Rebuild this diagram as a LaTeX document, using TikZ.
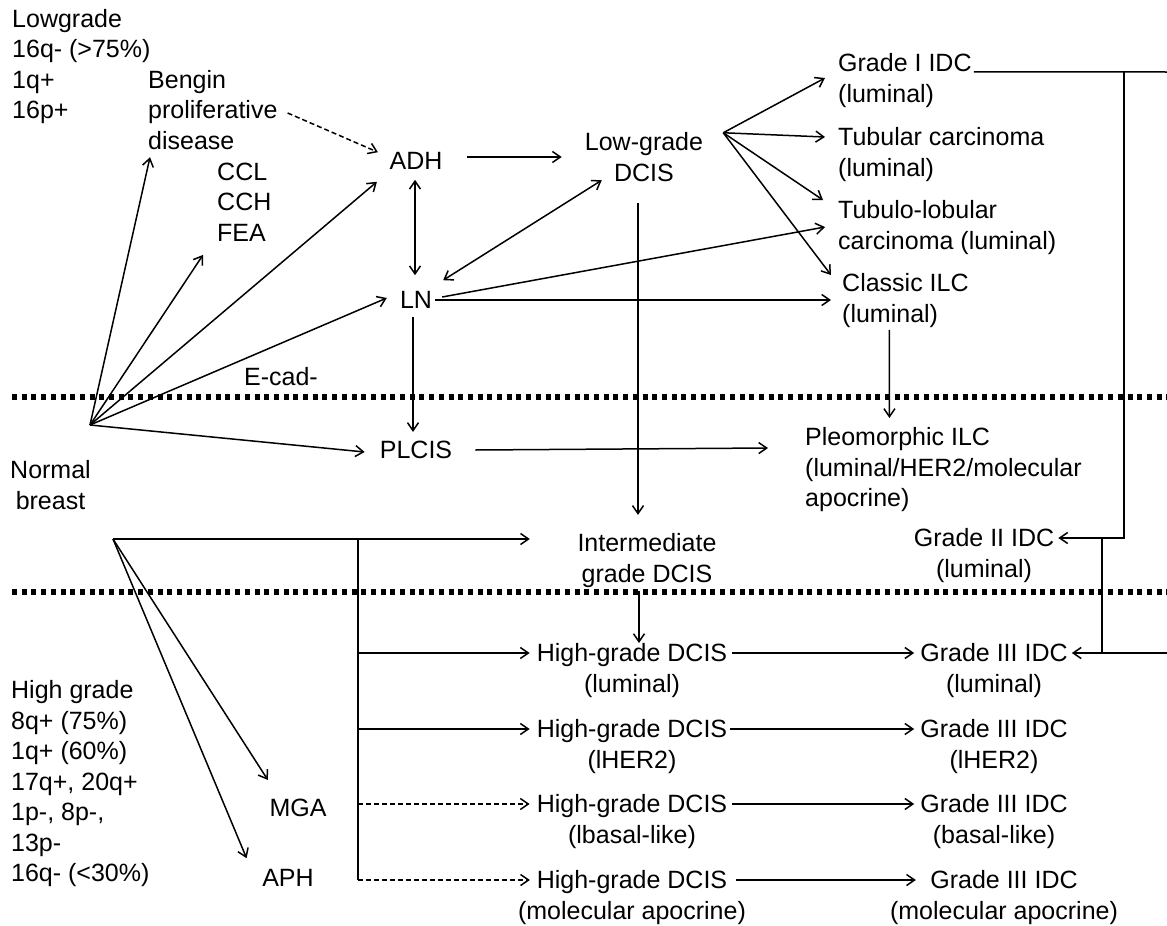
\documentclass[tikz,border=0pt]{standalone}
\usepackage{fontspec}
\setmainfont{Liberation Sans}
\usetikzlibrary{arrows.meta}
\tikzset{
  txt/.style={font=\fontsize{25}{30.5}\selectfont, inner sep=2pt, align=left},
  ctxt/.style={txt, align=center},
  plain/.style={line width=1.5pt},
  arr/.style={plain, -{Straight Barb[length=8pt,width=11pt]}},
  dbl/.style={plain, {Straight Barb[length=8pt,width=11pt]}-{Straight Barb[length=8pt,width=11pt]}},
  dsh/.style={dash pattern=on 5pt off 3pt},
  sepline/.style={line width=5.5pt, dash pattern=on 5pt off 4.7pt}
}
\begin{document}
\begin{tikzpicture}[x=1pt, y=-1pt]
\fill[white] (0,0) rectangle (1167,926);
\useasboundingbox (0,0) rectangle (1167,926);

% separators
\draw[sepline] (12,397) -- (1167,397);
\draw[sepline] (12,592) -- (1167,592);

% nodes
\node[txt, anchor=west] (lowgrade) at (10,66.3) {Lowgrade\\16q- (>75\%)\\1q+\\16p+};
\node[txt, anchor=west] (bengin) at (146,110) {Bengin\\proliferative\\disease};
\node[txt, anchor=west] (ccl) at (215,202) {CCL\\CCH\\FEA};
\node[txt] (adh) at (416,161) {ADH};
\node[ctxt] (lowdcis) at (644,157) {Low-grade\\DCIS};
\node[txt] (ln) at (416,300) {LN};
\node[txt] (plcis) at (416,450) {PLCIS};
\node[txt] (ecad) at (281,377) {E-cad-};
\node[ctxt] (normal) at (50.5,485) {Normal\\breast};
\node[txt, anchor=west] (g1) at (836,80.7) {Grade I IDC\\(luminal)};
\node[txt, anchor=west] (tub) at (836,154.7) {Tubular carcinoma\\(luminal)};
\node[txt, anchor=west] (tubl) at (836,227.7) {Tubulo-lobular\\carcinoma (luminal)};
\node[txt, anchor=west] (cilc) at (840,300.7) {Classic ILC\\(luminal)};
\node[txt, anchor=west] (pleo) at (803,470) {Pleomorphic ILC\\(luminal/HER2/molecular\\apocrine)};
\node[ctxt] (g2) at (984,555.7) {Grade II IDC\\(luminal)};
\node[ctxt] (inter) at (647,560.7) {Intermediate\\grade DCIS};
\node[ctxt] (hg1) at (632,670.7) {High-grade DCIS\\(luminal)};
\node[ctxt] (hg2) at (632,746.7) {High-grade DCIS\\(lHER2)};
\node[ctxt] (hg3) at (632,821.7) {High-grade DCIS\\(lbasal-like)};
\node[ctxt] (hg4) at (632,897.7) {High-grade DCIS\\(molecular apocrine)};
\node[ctxt] (g3a) at (994,670.7) {Grade III IDC\\(luminal)};
\node[ctxt] (g3b) at (994,746.7) {Grade III IDC\\(lHER2)};
\node[ctxt] (g3c) at (994,821.7) {Grade III IDC\\(basal-like)};
\node[ctxt] (g3d) at (1004,897.7) {Grade III IDC\\(molecular apocrine)};
\node[txt] (mga) at (298,808) {MGA};
\node[txt] (aph) at (288,878) {APH};
\node[txt, anchor=west] (hgb) at (9,784) {High grade\\8q+ (75\%)\\1q+ (60\%)\\17q+, 20q+\\1p-, 8p-,\\13p-\\16q- (<30\%)};

% free points
\coordinate (nb) at (90,425);
\coordinate (ap2) at (113,539);
\coordinate (fan) at ([xshift=18pt,yshift=-2.4pt]lowdcis.north east);
\coordinate (j1) at (358,539);
\coordinate (edge1) at (1167,72);
\coordinate (v1) at (1124,72);
\coordinate (v2) at (1102,538);
\coordinate (edge2) at (1167,653);

% fan from normal breast
\draw[arr] (nb) -- ([xshift=4pt,yshift=-5.3pt]bengin.south west);
\draw[arr] (nb) -- ([xshift=-12pt,yshift=-11.5pt]ccl.south west);
\draw[arr] (nb) -- ([xshift=-10.5pt,yshift=-10pt]adh.south west);
\draw[arr] (nb) -- ([xshift=-11pt,yshift=2pt]ln.west);
\draw[arr] (nb) -- ([xshift=-13pt,yshift=-2pt]plcis.west);

% upper network
\draw[arr, dsh] ([xshift=8pt,yshift=-3pt]bengin.east) -- ([xshift=-9.5pt,yshift=-2pt]adh.north west);
\draw[arr] ([xshift=22.5pt,yshift=4pt]adh.east) -- ([xshift=-21pt]lowdcis.west);
\draw[dbl] ([xshift=-1pt,yshift=-8pt]adh.south) -- ([xshift=-1pt,yshift=14pt]ln.north);
\draw[dbl] ([xshift=9pt,yshift=9pt]ln.north east) -- ([xshift=19pt,yshift=3.4pt]lowdcis.south west);
\draw[arr] ([xshift=8pt,yshift=3pt]ln.east) -- ([xshift=-11pt,yshift=0.7pt]tubl.west);
\draw[arr] ([xshift=1pt]ln.east) -- ([xshift=-9pt,yshift=0.7pt]cilc.west);
\draw[arr] ([xshift=-3pt,yshift=-6pt]ln.south) -- ([xshift=-3pt,yshift=7pt]plcis.north);
\draw[arr] ([xshift=21pt]plcis.east) -- ([xshift=-35pt,yshift=22pt]pleo.west);
\draw[arr] (fan) -- ([xshift=-11pt,yshift=2.7pt]g1.west);
\draw[arr] (fan) -- ([xshift=-11pt,yshift=17.7pt]tub.west);
\draw[arr] (fan) -- ([xshift=-13pt,yshift=27.7pt]tubl.west);
\draw[arr] (fan) -- ([xshift=-9pt,yshift=25.7pt]cilc.west);
\draw[arr] ([xshift=-16pt]cilc.south) -- ([xshift=-54pt,yshift=7.7pt]pleo.north);
\draw[arr] ([xshift=-6pt,yshift=-19.6pt]lowdcis.south) -- ([xshift=-9pt,yshift=16.7pt]inter.north);
\draw[arr] ([xshift=-8pt,yshift=-1.3pt]inter.south) -- ([xshift=7pt,yshift=-1.4pt]hg1.north);

% right side IDC links
\coordinate (g2in) at ([xshift=2pt,yshift=17.7pt]g2.east);
\coordinate (g3in) at ([xshift=2pt,yshift=17.7pt]g3a.east);
\draw[plain] ([yshift=-20.3pt]g1.north east) -- (edge1);
\draw[arr] (v1) |- (g2in);
\draw[plain] (v2) -- (v2 |- g3in);
\draw[arr] (edge2) -- (g3in);

% lower network
\coordinate (intin) at ([xshift=-45.5pt,yshift=21.7pt]inter.west);
\coordinate (r1) at ([xshift=-5pt,yshift=17.7pt]hg1.west);
\coordinate (r2) at ([xshift=-5pt,yshift=17.7pt]hg2.west);
\coordinate (r3) at ([xshift=-5pt,yshift=17.7pt]hg3.west);
\coordinate (r4) at ([xshift=14pt,yshift=17.7pt]hg4.west);
\draw[arr] (ap2) -- (intin);
\draw[plain] (j1) -- (j1 |- r4);
\draw[arr] (j1 |- r1) -- (r1);
\draw[arr] (j1 |- r2) -- (r2);
\draw[arr, dsh] (j1 |- r3) -- (r3);
\draw[arr, dsh] (j1 |- r4) -- (r4);
\draw[arr] (ap2) -- ([xshift=0.5pt,yshift=17pt]mga.north west);
\draw[arr] (ap2) -- ([xshift=-13.5pt,yshift=9pt]aph.north west);

% DCIS to IDC rows
\draw[arr] ([xshift=3pt,yshift=17.7pt]hg1.east) -- ([xshift=-4pt,yshift=17.7pt]g3a.west);
\draw[arr] ([xshift=1pt,yshift=17.7pt]hg2.east) -- ([xshift=-4pt,yshift=17.7pt]g3b.west);
\draw[arr] ([xshift=3pt,yshift=17.7pt]hg3.east) -- ([xshift=-4pt,yshift=17.7pt]g3c.west);
\draw[arr] ([xshift=-12pt,yshift=17.7pt]hg4.east) -- ([xshift=28pt,yshift=17.7pt]g3d.west);
\end{tikzpicture}
\end{document}
